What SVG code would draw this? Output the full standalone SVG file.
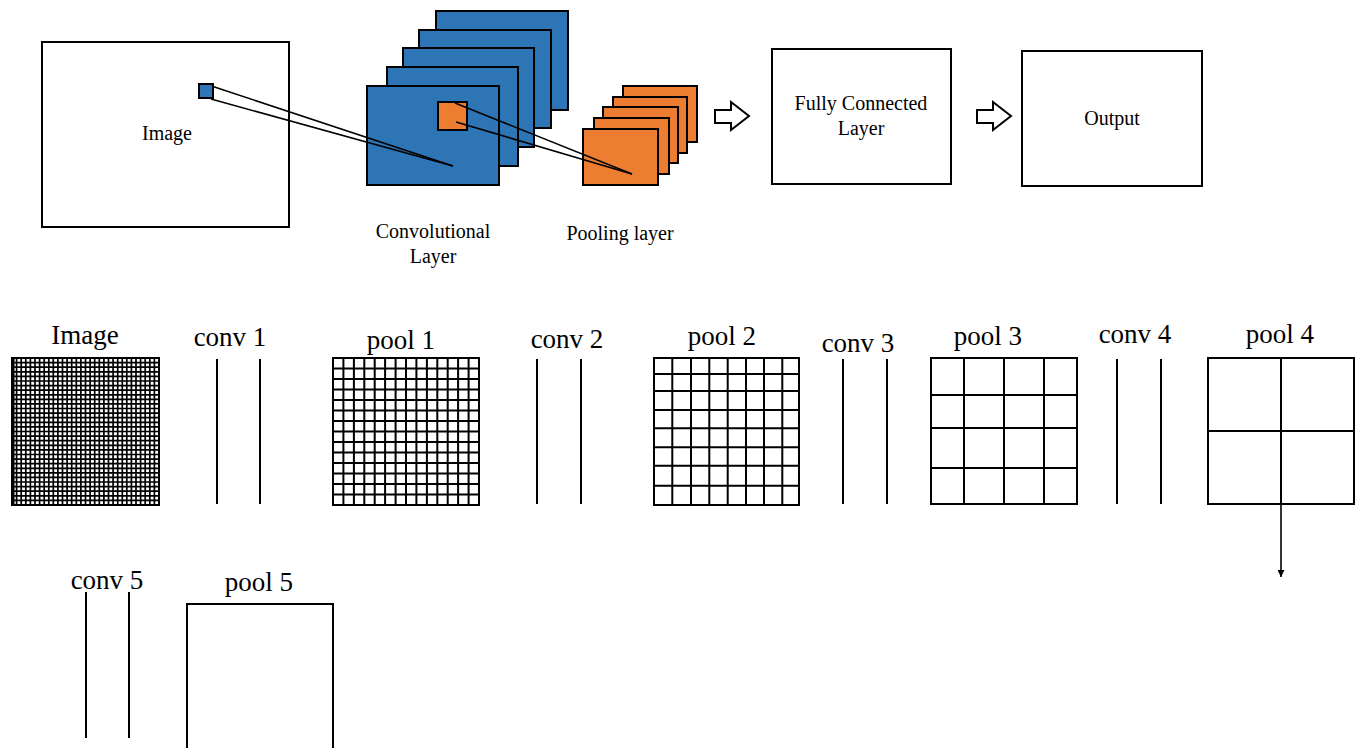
<svg xmlns="http://www.w3.org/2000/svg" width="1361" height="748" viewBox="0 0 1361 748">
<style>
.box{fill:#fff;stroke:#000;stroke-width:2}
.blue{fill:#2E75B6;stroke:#000;stroke-width:2}
.orange{fill:#ED7D31;stroke:#000;stroke-width:2}
.t1{font-family:"Liberation Serif","Times New Roman",serif;font-size:20px;fill:#000;text-anchor:middle}
.t2{font-family:"Liberation Serif","Times New Roman",serif;font-size:27px;fill:#000;text-anchor:middle}
.ln{stroke:#000;stroke-width:1.6;fill:none}
.grid{stroke:#000;fill:none}
.bar{stroke:#000;stroke-width:2;fill:none}
.arrow{fill:#fff;stroke:#000;stroke-width:2;stroke-linejoin:miter}
</style>
<defs>
<marker id="ah" viewBox="0 0 10 10" refX="10" refY="5" markerWidth="7" markerHeight="7" markerUnits="userSpaceOnUse" orient="auto">
<path d="M0 0L10 5L0 10Z" fill="#000"/>
</marker>
</defs>
<rect width="1361" height="748" fill="#fff"/>

<g id="input-image">
<rect class="box" x="42" y="42" width="247" height="185"/>
<rect class="blue" x="199" y="84" width="14" height="14"/>
<text class="t1" x="167" y="140">Image</text>
</g>

<g id="conv-layer">
<rect class="blue" x="436" y="11" width="132" height="99"/>
<rect class="blue" x="419" y="30" width="132" height="98"/>
<rect class="blue" x="403" y="48" width="131" height="99"/>
<rect class="blue" x="387" y="67" width="131" height="99"/>
<rect class="blue" x="367" y="86" width="132" height="99"/>
<rect class="orange" x="438" y="102" width="29" height="28"/>
<text class="t1" x="433" y="238">Convolutional</text>
<text class="t1" x="433" y="263">Layer</text>
</g>

<g id="pooling-layer">
<rect class="orange" x="623" y="86" width="74" height="56"/>
<rect class="orange" x="613" y="97" width="74" height="56"/>
<rect class="orange" x="603" y="107" width="75" height="56"/>
<rect class="orange" x="594" y="118" width="75" height="56"/>
<rect class="orange" x="583" y="129" width="75" height="56"/>
<text class="t1" x="620" y="240">Pooling layer</text>
</g>

<g id="fully-connected">
<rect class="box" x="772" y="49" width="179" height="135"/>
<text class="t1" x="861" y="110">Fully Connected</text>
<text class="t1" x="861" y="135">Layer</text>
</g>

<g id="output">
<rect class="box" x="1022" y="51" width="180" height="135"/>
<text class="t1" x="1112" y="125">Output</text>
</g>

<g id="grid-image">
<text class="t2" x="85" y="344">Image</text>
<path class="grid" stroke-width="1.7" d="M16.6 358V505M21.2 358V505M25.8 358V505M30.4 358V505M35 358V505M39.6 358V505M44.2 358V505M48.8 358V505M53.3 358V505M57.9 358V505M62.5 358V505M67.1 358V505M71.7 358V505M76.3 358V505M80.9 358V505M85.5 358V505M90.1 358V505M94.7 358V505M99.3 358V505M103.9 358V505M108.5 358V505M113.1 358V505M117.7 358V505M122.3 358V505M126.8 358V505M131.4 358V505M136 358V505M140.6 358V505M145.2 358V505M149.8 358V505M154.4 358V505
M12 362.6H159M12 367.2H159M12 371.8H159M12 376.4H159M12 381H159M12 385.6H159M12 390.2H159M12 394.8H159M12 399.3H159M12 403.9H159M12 408.5H159M12 413.1H159M12 417.7H159M12 422.3H159M12 426.9H159M12 431.5H159M12 436.1H159M12 440.7H159M12 445.3H159M12 449.9H159M12 454.5H159M12 459.1H159M12 463.7H159M12 468.3H159M12 472.8H159M12 477.4H159M12 482H159M12 486.6H159M12 491.2H159M12 495.8H159M12 500.4H159"/>
<rect class="grid" stroke-width="2" x="12" y="358" width="147" height="147"/>
<path class="grid" stroke-width="3" d="M13 358V505"/>
</g>

<g id="conv1">
<text class="t2" x="230" y="346">conv 1</text>
<path class="bar" d="M217 359V504M260 359V504"/>
</g>

<g id="pool1">
<text class="t2" x="401" y="349">pool 1</text>
<path class="grid" stroke-width="2" d="M343.4 358V505M353.9 358V505M364.3 358V505M374.7 358V505M385.1 358V505M395.6 358V505M406 358V505M416.4 358V505M426.9 358V505M437.3 358V505M447.7 358V505M458.1 358V505M468.6 358V505
M333 368.5H479M333 379H479M333 389.5H479M333 400H479M333 410.5H479M333 421H479M333 431.5H479M333 442H479M333 452.5H479M333 463H479M333 473.5H479M333 484H479M333 494.5H479"/>
<rect class="grid" stroke-width="2" x="333" y="358" width="146" height="147"/>
</g>

<g id="conv2">
<text class="t2" x="567" y="348">conv 2</text>
<path class="bar" d="M537 359V504M581 359V504"/>
</g>

<g id="pool2">
<text class="t2" x="722" y="345">pool 2</text>
<path class="grid" stroke-width="2" d="M672.3 358V505M691 358V505M709.3 358V505M727.7 358V505M746 358V505M764 358V505M782.3 358V505
M654 374H799M654 391H799M654 410H799M654 428.3H799M654 447.3H799M654 465.7H799M654 485.7H799"/>
<rect class="grid" stroke-width="2" x="654" y="358" width="145" height="147"/>
</g>

<g id="conv3">
<text class="t2" x="858" y="352">conv 3</text>
<path class="bar" d="M843 359V504M887 359V504"/>
</g>

<g id="pool3">
<text class="t2" x="988" y="345">pool 3</text>
<path class="grid" stroke-width="2" d="M964 358V504M1004 358V504M1044 358V504M931 395H1077M931 428H1077M931 468H1077"/>
<rect class="grid" stroke-width="2" x="931" y="358" width="146" height="146"/>
</g>

<g id="conv4">
<text class="t2" x="1135" y="343">conv 4</text>
<path class="bar" d="M1117 359V504M1161 359V504"/>
</g>

<g id="pool4">
<text class="t2" x="1280" y="343">pool 4</text>
<path class="grid" stroke-width="2" d="M1281 358V504M1208 431H1354"/>
<rect class="grid" stroke-width="2" x="1208" y="358" width="146" height="146"/>
</g>

<g id="conv5">
<text class="t2" x="107" y="589">conv 5</text>
<path class="bar" d="M86 592V738M129 592V738"/>
</g>

<g id="pool5">
<text class="t2" x="259" y="591">pool 5</text>
<path class="grid" stroke-width="2" d="M187 752V604H333V752"/>
</g>

<g id="connectors">
<line class="ln" x1="213" y1="86.5" x2="453" y2="166"/>
<line class="ln" x1="211" y1="99" x2="453" y2="166"/>
<line class="ln" x1="455" y1="103" x2="632" y2="174"/>
<line class="ln" x1="456" y1="122" x2="632" y2="174"/>
<polygon class="arrow" points="715,110 731,110 731,102 749,116 731,130 731,123 715,123"/>
<polygon class="arrow" points="977,110 993,110 993,102 1011,116 993,130 993,123 977,123"/>
<line stroke="#000" stroke-width="1.6" x1="1281" y1="504" x2="1281" y2="577" marker-end="url(#ah)"/>
</g>
</svg>
